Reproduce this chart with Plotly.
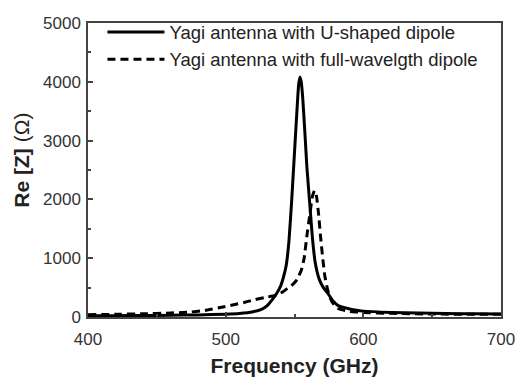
import plotly.graph_objects as go

# U-shaped dipole (solid)
freq_u = [400, 420, 440, 460, 480, 500, 510, 520, 526, 530, 534, 537, 540, 542, 544, 546, 548, 550, 552, 553, 554, 555, 556, 557.5, 559, 561, 563, 565, 568, 571, 574, 578, 582, 588, 595, 600, 620, 640, 660, 680, 700]
re_u = [20, 22, 25, 30, 36, 48, 60, 90, 130, 190, 300, 400, 530, 680, 880, 1300, 2000, 2800, 3600, 3950, 4080, 3980, 3720, 3150, 2550, 1950, 1350, 930, 640, 500, 410, 270, 190, 150, 115, 100, 78, 66, 58, 54, 50]

# full-wavelength dipole (dashed)
freq_f = [400, 420, 440, 460, 472, 485, 497, 505, 514, 520, 528, 536, 541, 545, 549, 552, 555, 557, 559, 561, 563, 564.5, 566, 567.5, 569, 570.5, 572, 574, 576, 578, 582, 590, 600, 620, 650, 700]
re_f = [40, 45, 55, 68, 80, 110, 165, 205, 250, 290, 330, 365, 420, 490, 560, 640, 800, 1000, 1380, 1720, 2050, 2150, 2050, 1750, 1350, 1000, 700, 470, 320, 230, 140, 95, 78, 62, 50, 45]

x_ticks = [400, 500, 600, 700]
y_ticks = [0, 1000, 2000, 3000, 4000, 5000]

font = "Liberation Sans, Arial, sans-serif"

fig = go.Figure()
fig.add_trace(go.Scatter(x=freq_u, y=re_u, mode="lines", line=dict(color="black", width=3, shape="spline", smoothing=0.4),
                         name="Yagi antenna with U-shaped dipole"))
fig.add_trace(go.Scatter(x=freq_f, y=re_f, mode="lines", line=dict(color="black", width=3, dash="8px,5px", shape="spline", smoothing=0.3),
                         name="Yagi antenna with full-wavelgth dipole"))

axis_common = dict(showgrid=False, zeroline=False, showline=True, linecolor="#444", linewidth=1.5,
                   mirror=True, ticks="inside", tickcolor="#444", ticklen=5, tickwidth=1.5,
                   automargin=False,
                   tickfont=dict(family=font, size=17, color="#333"))

fig.update_xaxes(range=[400, 700], tickvals=x_ticks, ticktext=[str(v) for v in x_ticks],
                 minor=dict(ticks="inside", dtick=50, tick0=400, ticklen=3, tickcolor="#444"),
                 ticklabelstandoff=6,
                 title=dict(text="<b>Frequency (GHz)</b>", font=dict(family=font, size=21, color="#222"), standoff=10),
                 **axis_common)
fig.update_yaxes(range=[0, 5000], tickvals=y_ticks, ticktext=[str(v) for v in y_ticks],
                 minor=dict(ticks="inside", dtick=500, tick0=0, ticklen=3, tickcolor="#444"),
                 ticklabelstandoff=2,
                 **axis_common)

fig.update_layout(
    width=520, height=372,
    margin=dict(l=80, r=27, t=6, b=63),
    paper_bgcolor="white", plot_bgcolor="white",
    font=dict(family=font, color="#222"),
    legend=dict(x=0.035, y=1.032, xanchor="left", yanchor="top", bgcolor="rgba(0,0,0,0)",
                font=dict(family=font, size=18.5, color="#222"), itemwidth=57, tracegroupgap=0),
    showlegend=True,
    annotations=[dict(text="<b>Re [Z]</b> (Ω)", textangle=-90, xref="paper", yref="paper",
                      x=-0.16, y=0.535, xanchor="center", yanchor="middle", showarrow=False,
                      font=dict(family=font, size=21, color="#222"))],
)

fig.write_html("out.html")
